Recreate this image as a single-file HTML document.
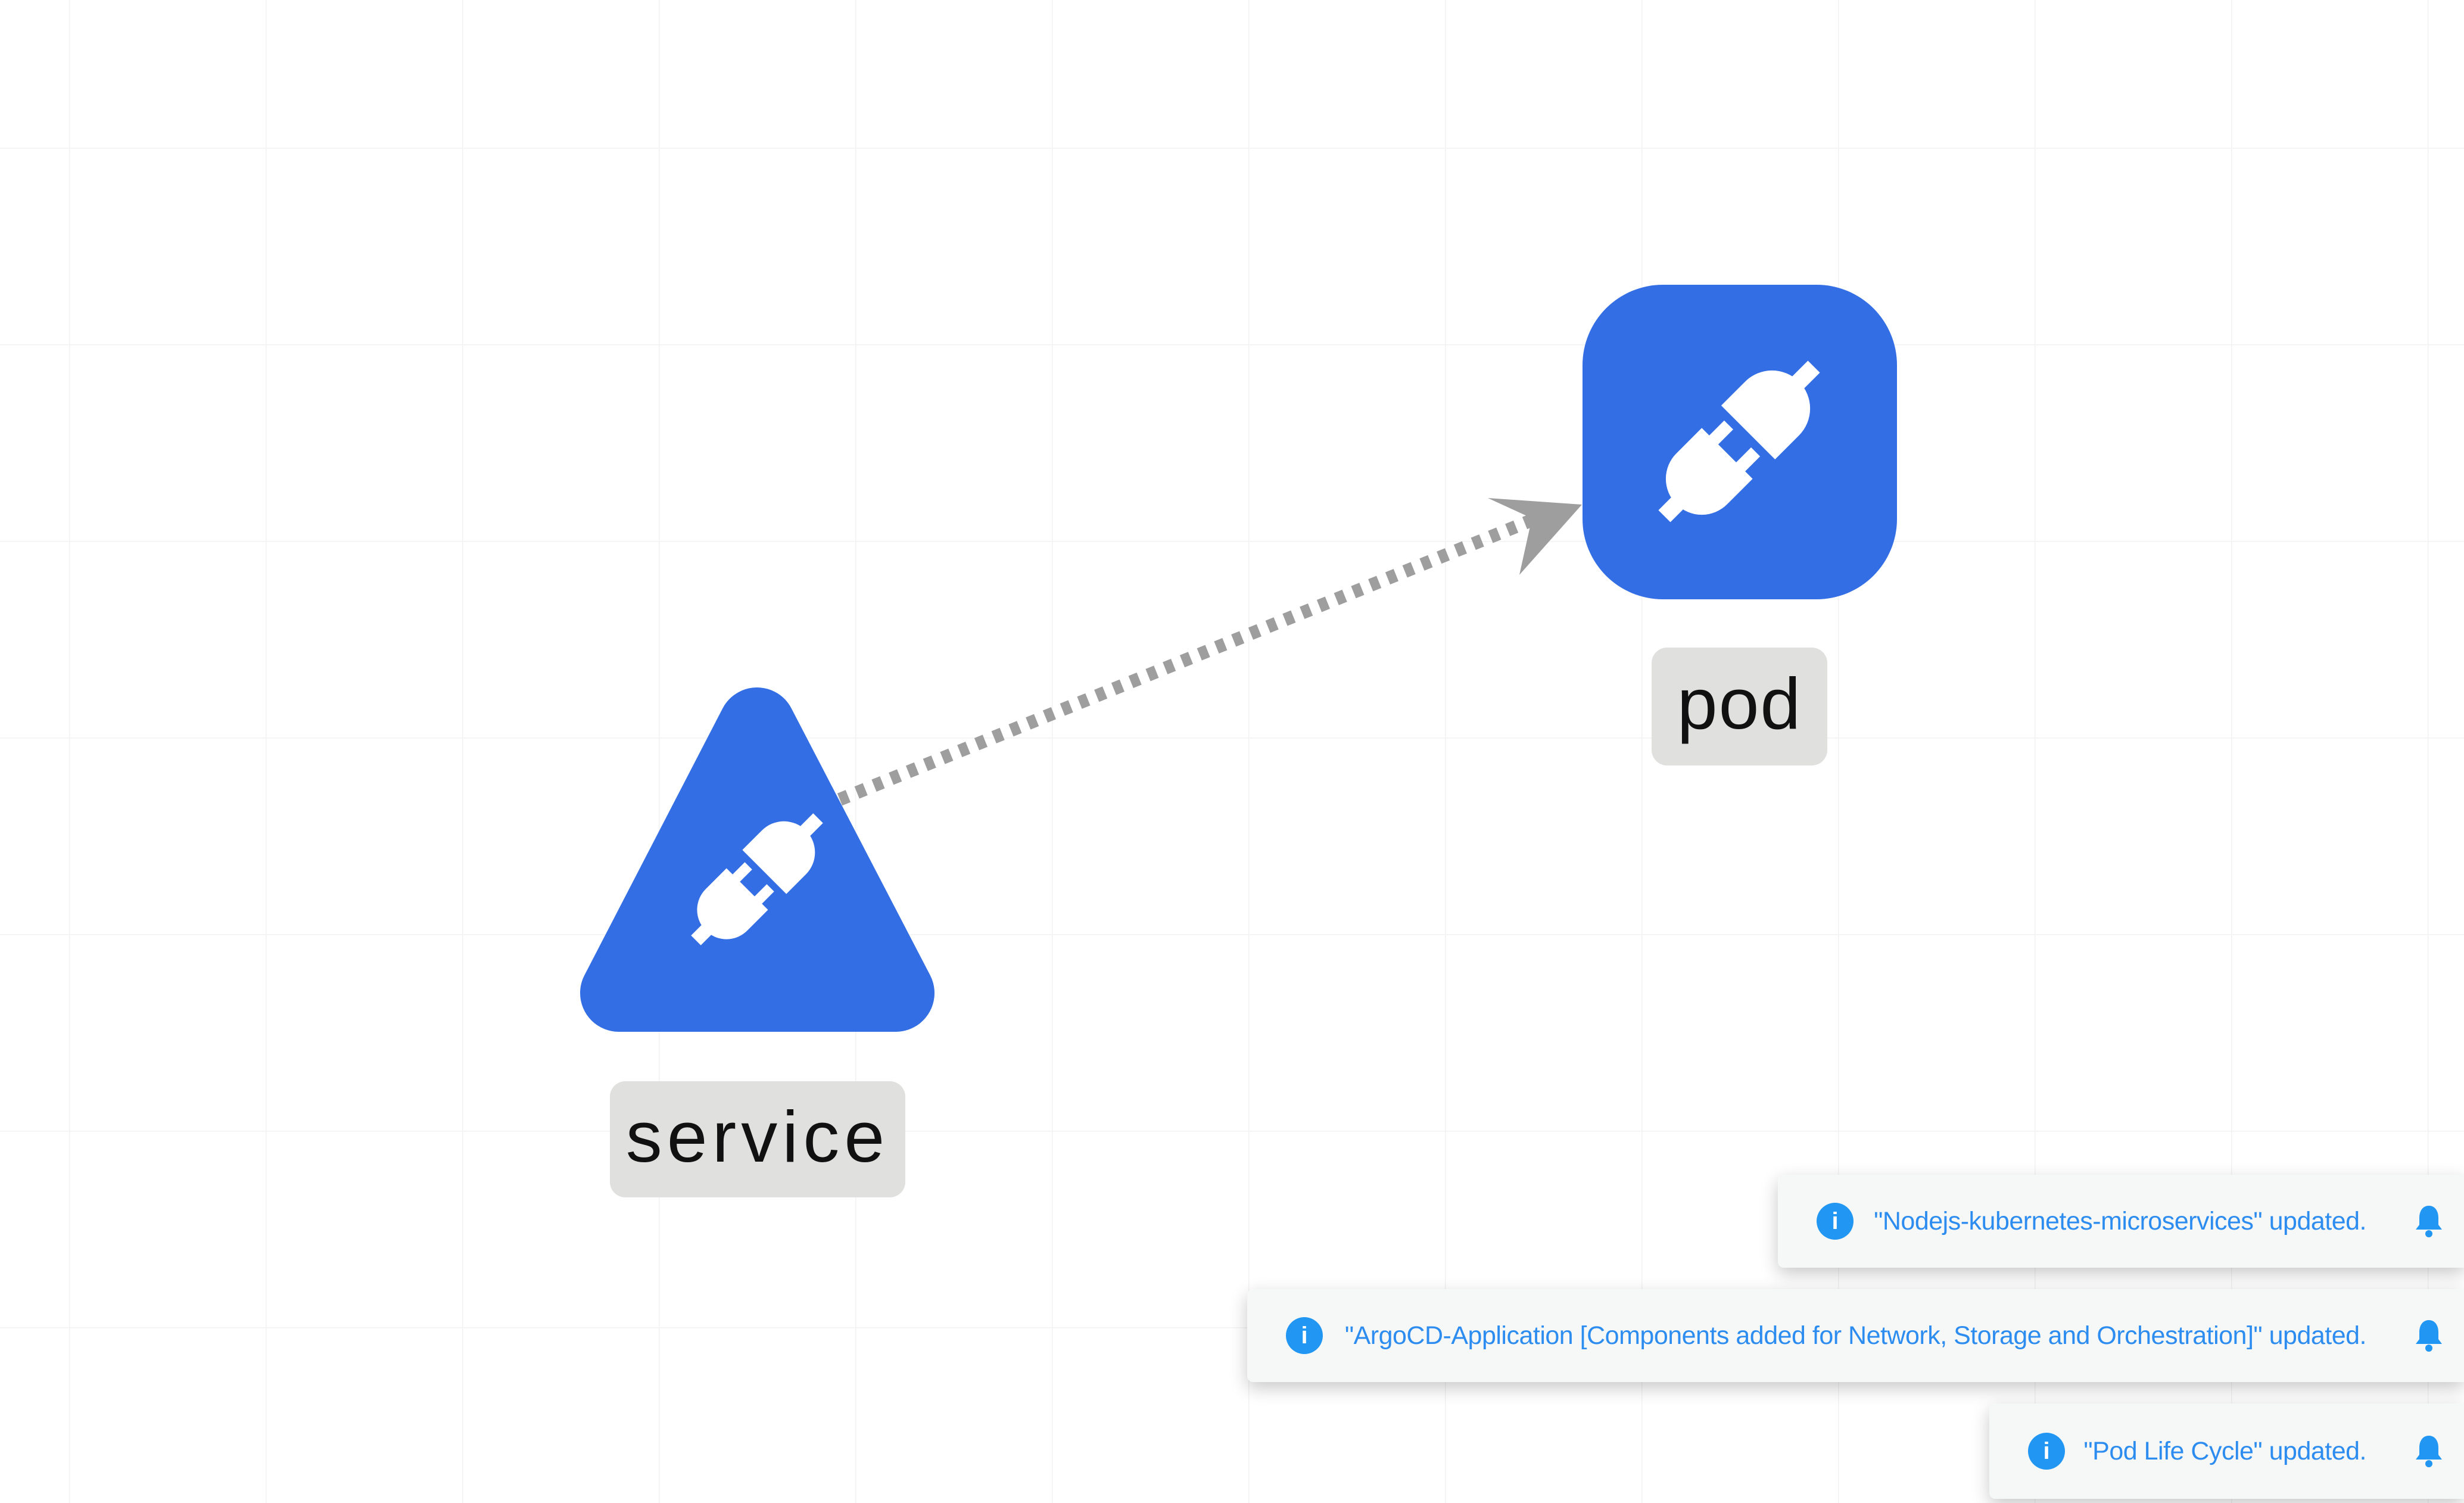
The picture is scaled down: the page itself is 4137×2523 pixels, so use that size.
<!DOCTYPE html>
<html><head><meta charset="utf-8"><style>
html,body{margin:0;padding:0;background:#fff;}
body{width:4137px;height:2523px;position:relative;overflow:hidden;font-family:"Liberation Sans",sans-serif;}
.toast{position:absolute;right:0;background:#f5f8f6;box-shadow:0 10px 30px rgba(0,0,0,0.22);border-radius:10px 0 0 10px;}
.toast .txt{position:absolute;right:164px;top:0;bottom:0;display:flex;align-items:center;color:#2d8cf0;font-size:43px;white-space:nowrap;letter-spacing:-0.5px;}
.toast .info{position:absolute;width:62px;height:62px;border-radius:50%;background:#2196f3;top:50%;margin-top:-31px;color:#fff;font-weight:bold;font-size:40px;text-align:center;line-height:62px;}
.toast .bell{position:absolute;right:34px;top:50%;margin-top:-28px;}
.lbl{position:absolute;background:#e0e1df;border-radius:26px;display:flex;align-items:center;justify-content:center;color:#111;font-size:122px;}
</style></head><body>
<svg width="4137" height="2523" style="position:absolute;left:0;top:0">
<defs>
<pattern id="g" width="330" height="330" patternUnits="userSpaceOnUse" x="116" y="248">
<path d="M0 0 H330 M0 0 V330" stroke="#f2f2f2" stroke-width="3" fill="none"/>
</pattern>
<g id="plug" fill="#fff">
<rect x="-50" y="-4" width="14" height="8"/>
<path d="M -8 -17 L -25 -17 A 17 17 0 0 0 -25 17 L -8 17 Z"/>
<rect x="-9" y="-12" width="11" height="6"/>
<rect x="-9" y="6" width="11" height="6"/>
<path d="M 6 -18 L 22 -18 A 18 18 0 0 1 22 18 L 6 18 Z"/>
<rect x="36" y="-4" width="14" height="8"/>
</g>
</defs>
<rect width="4137" height="2523" fill="url(#g)"/>
<line x1="1410" y1="1342" x2="2580" y2="870" stroke="#9e9e9e" stroke-width="22" stroke-dasharray="15 16"/>
<polygon points="2656,847 2498,836 2572,870 2551,965" fill="#9e9e9e"/>
<rect x="2657" y="478" width="528" height="528" rx="135" fill="#336ee5"/>
<use href="#plug" transform="translate(2920,741) rotate(-45) scale(3.55)"/>
<polygon points="1271,1219 1504,1667 1039,1667" fill="#336ee5" stroke="#336ee5" stroke-width="130" stroke-linejoin="round"/>
<use href="#plug" transform="translate(1271,1476) rotate(-45) scale(2.9)"/>
</svg>
<div class="lbl" style="left:2773px;top:1087px;width:295px;height:198px;"><span style="margin-top:-10px;letter-spacing:2px">pod</span></div>
<div class="lbl" style="left:1024px;top:1815px;width:496px;height:195px;"><span style="margin-top:-10px;letter-spacing:8px">service</span></div>

<div class="toast" style="top:1972px;width:1152px;height:156px;">
<div class="info" style="left:65px">i</div>
<div class="txt">"Nodejs-kubernetes-microservices" updated.</div>
<svg class="bell" width="50" height="56" viewBox="0 0 50 56"><path d="M25 2 C14 2 9 12 9 22 V34 L3 42 H47 L41 34 V22 C41 12 36 2 25 2Z" fill="#2196f3"/><circle cx="25" cy="49" r="6" fill="#2196f3"/></svg>
</div>
<div class="toast" style="top:2164px;width:2043px;height:156px;">
<div class="info" style="left:65px">i</div>
<div class="txt">"ArgoCD-Application [Components added for Network, Storage and Orchestration]" updated.</div>
<svg class="bell" width="50" height="56" viewBox="0 0 50 56"><path d="M25 2 C14 2 9 12 9 22 V34 L3 42 H47 L41 34 V22 C41 12 36 2 25 2Z" fill="#2196f3"/><circle cx="25" cy="49" r="6" fill="#2196f3"/></svg>
</div>
<div class="toast" style="top:2356px;width:797px;height:160px;">
<div class="info" style="left:65px">i</div>
<div class="txt">"Pod Life Cycle" updated.</div>
<svg class="bell" width="50" height="56" viewBox="0 0 50 56"><path d="M25 2 C14 2 9 12 9 22 V34 L3 42 H47 L41 34 V22 C41 12 36 2 25 2Z" fill="#2196f3"/><circle cx="25" cy="49" r="6" fill="#2196f3"/></svg>
</div>
</body></html>
